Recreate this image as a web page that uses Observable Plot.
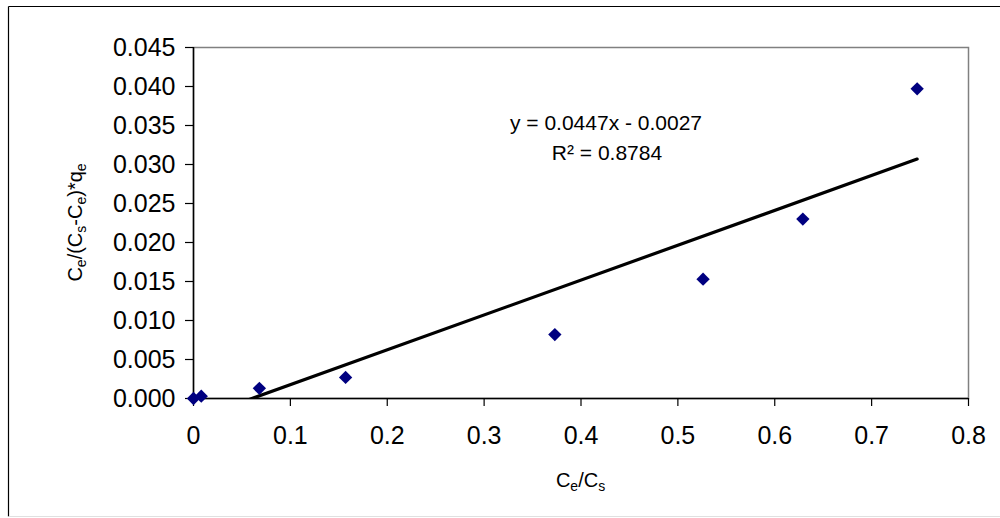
<!DOCTYPE html>
<html>
<head>
<meta charset="utf-8">
<script src="https://cdn.jsdelivr.net/npm/d3@7"></script>
<script src="https://cdn.jsdelivr.net/npm/@observablehq/plot@0.6"></script>
<style>
  html, body { margin: 0; padding: 0; background: #fff; }
  #chart { width: 1000px; height: 518px; position: relative; }
</style>
</head>
<body>
<div id="chart"></div>
<script>
// Data
const ceOverCs = [0.000, 0.008, 0.068, 0.157, 0.373, 0.526, 0.629, 0.747];
const yValues  = [0.0000, 0.0003, 0.0013, 0.0027, 0.0082, 0.0153, 0.0230, 0.0397];
const xTicks = [0, 0.1, 0.2, 0.3, 0.4, 0.5, 0.6, 0.7, 0.8];
const yTicks = [0, 0.005, 0.010, 0.015, 0.020, 0.025, 0.030, 0.035, 0.040, 0.045];
const slope = 0.0447;
const intercept = -0.0027;
const equationText = "y = 0.0447x - 0.0027";
const r2Text = "R² = 0.8784";

const points = ceOverCs.map((x, i) => ({x, y: yValues[i]}));
const xMax = d3.max(ceOverCs);
const trend = [0, xMax].map(x => ({x, y: slope * x + intercept}));

const font = "'Liberation Sans', Arial, sans-serif";

const plot = Plot.plot({
  width: 1000,
  height: 518,
  marginLeft: 193,
  marginRight: 32,
  marginTop: 47,
  marginBottom: 120,
  style: {fontFamily: font, fontSize: "25px", color: "#000", background: "transparent", overflow: "visible"},
  x: {domain: [0, 0.8]},
  y: {domain: [0, 0.045]},
  marks: [
    Plot.frame({stroke: "#808080", strokeWidth: 1.5}),
    Plot.axisX({ticks: xTicks, tickSize: 8, tickPadding: 20, tickFormat: d => d === 0 ? "0" : d.toFixed(1), label: null, strokeWidth: 1.2}),
    Plot.axisY({ticks: yTicks, tickSize: 8, tickPadding: 10, tickFormat: d3.format(".3f"), label: null, strokeWidth: 1.2}),
    Plot.ruleX([0], {stroke: "#000", strokeWidth: 1.5}),
    Plot.ruleY([0], {stroke: "#000", strokeWidth: 1.5}),
    Plot.line(trend, {x: "x", y: "y", stroke: "#000", strokeWidth: 3.2, clip: true}),
    Plot.dot(points, {x: "x", y: "y", symbol: "diamond2", r: 6, fill: "#000080", stroke: "none"})
  ]
});

document.getElementById("chart").appendChild(plot);

const svg = d3.select(plot);
const sx = plot.scale("x"), sy = plot.scale("y");

// Outer chart border
const border = svg.insert("g", ":first-child");
border.append("line").attr("x1", 8.5).attr("x2", 8.5).attr("y1", 6.5).attr("y2", 516.5).attr("stroke", "#000").attr("stroke-width", 1.2);
border.append("line").attr("x1", 8.5).attr("x2", 1000).attr("y1", 6.5).attr("y2", 6.5).attr("stroke", "#000").attr("stroke-width", 1.2);
border.append("line").attr("x1", 8.5).attr("x2", 1000).attr("y1", 516.5).attr("y2", 516.5).attr("stroke", "#e0e0e0").attr("stroke-width", 1);

// Trendline equation label
const midX = (sx.range[0] + sx.range[1]) / 2;
const midY = (sy.range[0] + sy.range[1]) / 2;
const eq = svg.append("g").attr("font-family", font).attr("font-size", 21).attr("text-anchor", "middle").attr("fill", "#000");
eq.append("text").attr("x", 606).attr("y", 130).text(equationText);
eq.append("text").attr("x", 607).attr("y", 160).text(r2Text);

// Axis titles with subscripts
function addRich(textSel, parts) {
  parts.forEach(p => {
    const t = textSel.append("tspan").text(p.t);
    if (p.sub) t.attr("font-size", "70%").attr("baseline-shift", "-25%");
  });
}

const xTitle = svg.append("text")
  .attr("x", midX).attr("y", 487)
  .attr("text-anchor", "middle").attr("font-family", font).attr("font-size", 20).attr("fill", "#000");
addRich(xTitle, [{t: "C"}, {t: "e", sub: true}, {t: "/C"}, {t: "s", sub: true}]);

const yTitle = svg.append("text")
  .attr("transform", `translate(82,${midY}) rotate(-90)`)
  .attr("text-anchor", "middle").attr("font-family", font).attr("font-size", 20).attr("fill", "#000");
addRich(yTitle, [{t: "C"}, {t: "e", sub: true}, {t: "/(C"}, {t: "s", sub: true}, {t: "-C"}, {t: "e", sub: true}, {t: ")*q"}, {t: "e", sub: true}]);
</script>
</body>
</html>
